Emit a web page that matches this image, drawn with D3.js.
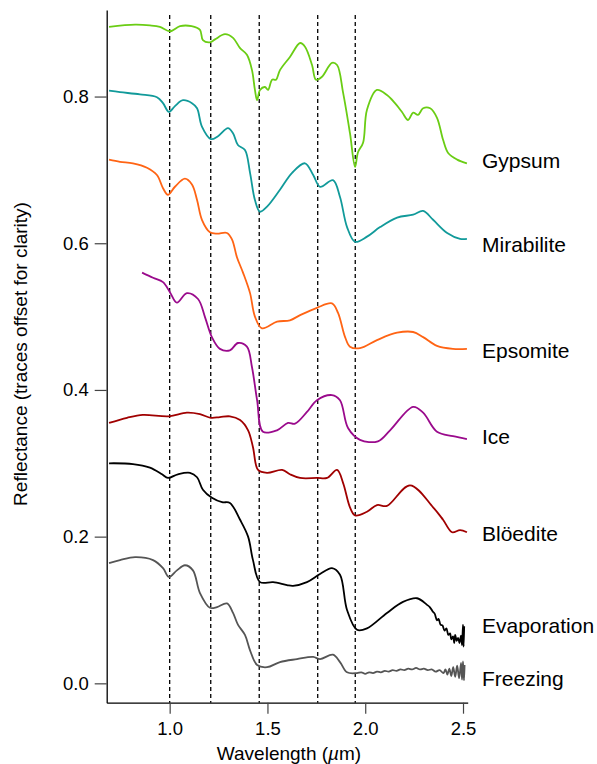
<!DOCTYPE html>
<html>
<head>
<meta charset="utf-8">
<title>Reflectance spectra</title>
<script src="https://cdn.jsdelivr.net/npm/d3@7/dist/d3.min.js"></script>
<style>
  body { margin: 0; background: #fff; }
  svg text { font-family: "Liberation Sans", Arial, Helvetica, sans-serif; fill: #000; }
</style>
</head>
<body>
<div id="chart"></div>
<script>
// traces, [wavelength (um), reflectance]
var gypsum = [[0.690,0.895],[0.823,0.898],[0.899,0.897],[0.950,0.895],[1.002,0.889],[1.053,0.896],[1.112,0.896],[1.155,0.891],[1.170,0.877],[1.206,0.874],[1.232,0.878],[1.283,0.885],[1.324,0.880],[1.360,0.866],[1.395,0.857],[1.421,0.836],[1.436,0.809],[1.447,0.795],[1.462,0.809],[1.487,0.813],[1.503,0.809],[1.524,0.823],[1.544,0.823],[1.564,0.836],[1.615,0.854],[1.667,0.873],[1.692,0.868],[1.728,0.843],[1.748,0.823],[1.779,0.827],[1.830,0.846],[1.856,0.843],[1.887,0.805],[1.922,0.750],[1.948,0.704],[1.963,0.724],[1.989,0.737],[2.009,0.782],[2.060,0.809],[2.111,0.802],[2.152,0.791],[2.188,0.779],[2.219,0.768],[2.245,0.778],[2.270,0.775],[2.296,0.784],[2.332,0.784],[2.367,0.771],[2.398,0.741],[2.424,0.723],[2.470,0.714],[2.520,0.709]];
var mirabilite = [[0.690,0.808],[0.746,0.806],[0.848,0.803],[0.935,0.799],[0.966,0.791],[0.996,0.779],[1.027,0.787],[1.068,0.795],[1.114,0.791],[1.140,0.784],[1.165,0.759],[1.211,0.742],[1.247,0.746],[1.298,0.757],[1.324,0.750],[1.349,0.734],[1.385,0.727],[1.411,0.696],[1.436,0.659],[1.462,0.643],[1.498,0.650],[1.564,0.673],[1.626,0.696],[1.692,0.709],[1.734,0.693],[1.769,0.677],[1.835,0.686],[1.871,0.663],[1.907,0.622],[1.948,0.602],[2.009,0.609],[2.076,0.622],[2.163,0.635],[2.245,0.639],[2.296,0.644],[2.347,0.632],[2.419,0.614],[2.485,0.606],[2.520,0.606]];
var epsomite = [[0.690,0.714],[0.746,0.711],[0.812,0.709],[0.884,0.703],[0.935,0.693],[0.966,0.675],[0.991,0.666],[1.027,0.677],[1.078,0.688],[1.114,0.680],[1.140,0.659],[1.165,0.632],[1.206,0.615],[1.242,0.613],[1.293,0.614],[1.319,0.605],[1.344,0.581],[1.375,0.560],[1.411,0.532],[1.436,0.500],[1.472,0.484],[1.549,0.493],[1.615,0.495],[1.667,0.502],[1.753,0.512],[1.830,0.518],[1.861,0.505],[1.897,0.472],[1.922,0.459],[1.973,0.457],[2.060,0.468],[2.163,0.478],[2.245,0.479],[2.296,0.472],[2.367,0.460],[2.449,0.456],[2.520,0.456]];
var ice = [[0.859,0.560],[0.915,0.553],[0.966,0.547],[1.002,0.533],[1.037,0.519],[1.088,0.532],[1.145,0.524],[1.181,0.499],[1.216,0.472],[1.257,0.456],[1.308,0.454],[1.349,0.464],[1.395,0.459],[1.421,0.431],[1.447,0.386],[1.477,0.343],[1.549,0.345],[1.605,0.355],[1.641,0.354],[1.702,0.370],[1.753,0.386],[1.830,0.393],[1.871,0.386],[1.912,0.348],[1.973,0.332],[2.065,0.330],[2.127,0.345],[2.245,0.377],[2.296,0.369],[2.367,0.343],[2.449,0.337],[2.520,0.333]];
var bloedite = [[0.690,0.355],[0.782,0.362],[0.863,0.366],[0.996,0.364],[1.088,0.369],[1.155,0.367],[1.211,0.362],[1.257,0.363],[1.308,0.364],[1.360,0.359],[1.401,0.345],[1.426,0.322],[1.452,0.291],[1.498,0.287],[1.575,0.291],[1.615,0.285],[1.667,0.280],[1.753,0.280],[1.805,0.280],[1.856,0.291],[1.887,0.273],[1.922,0.240],[1.948,0.229],[2.009,0.234],[2.060,0.243],[2.111,0.242],[2.229,0.270],[2.347,0.240],[2.398,0.223],[2.444,0.206],[2.485,0.209],[2.520,0.206]];
var evaporation = [[0.690,0.300],[0.812,0.299],[0.899,0.294],[0.961,0.285],[0.991,0.280],[1.042,0.285],[1.104,0.287],[1.140,0.281],[1.170,0.264],[1.216,0.253],[1.268,0.247],[1.308,0.246],[1.360,0.223],[1.401,0.200],[1.426,0.168],[1.462,0.138],[1.529,0.138],[1.600,0.134],[1.631,0.133],[1.702,0.138],[1.769,0.149],[1.830,0.157],[1.871,0.148],[1.907,0.100],[1.958,0.073],[2.009,0.075],[2.111,0.096],[2.193,0.111],[2.265,0.116],[2.316,0.107],[2.330,0.104],[2.345,0.098],[2.355,0.095],[2.367,0.086],[2.375,0.088],[2.385,0.080],[2.395,0.079],[2.405,0.072],[2.415,0.075],[2.425,0.066],[2.434,0.068],[2.440,0.060],[2.449,0.064],[2.455,0.055],[2.460,0.066],[2.468,0.058],[2.475,0.062],[2.482,0.055],[2.490,0.065],[2.495,0.052],[2.500,0.080],[2.503,0.050],[2.506,0.078]];
var freezing = [[0.690,0.164],[0.746,0.168],[0.823,0.172],[0.915,0.168],[0.966,0.157],[0.996,0.145],[1.037,0.154],[1.078,0.161],[1.119,0.154],[1.155,0.123],[1.206,0.103],[1.242,0.104],[1.293,0.109],[1.324,0.096],[1.349,0.080],[1.385,0.066],[1.411,0.045],[1.447,0.025],[1.498,0.022],[1.564,0.029],[1.651,0.033],[1.734,0.036],[1.769,0.033],[1.835,0.039],[1.871,0.029],[1.907,0.015],[1.958,0.014],[1.980,0.015],[2.000,0.013],[2.020,0.015],[2.040,0.014],[2.060,0.016],[2.080,0.015],[2.100,0.017],[2.120,0.016],[2.140,0.018],[2.160,0.017],[2.180,0.019],[2.200,0.018],[2.220,0.020],[2.240,0.019],[2.260,0.021],[2.280,0.019],[2.300,0.020],[2.320,0.018],[2.340,0.019],[2.360,0.016],[2.380,0.018],[2.400,0.014],[2.410,0.019],[2.420,0.012],[2.430,0.020],[2.440,0.010],[2.450,0.022],[2.460,0.009],[2.470,0.024],[2.480,0.007],[2.490,0.028],[2.495,0.005],[2.500,0.030],[2.505,0.004],[2.508,0.025]];

var names = ["Gypsum", "Mirabilite", "Epsomite", "Ice", "Blöedite", "Evaporation", "Freezing"];
var traces = [gypsum, mirabilite, epsomite, ice, bloedite, evaporation, freezing];
var colors = ["#6acd14", "#119a9a", "#ff6414", "#9a0a8c", "#a00000", "#000000", "#555555"];
var labelY = [0.713, 0.598, 0.454, 0.336, 0.204, 0.078, 0.007];
var bands = [1.0, 1.21, 1.458, 1.757, 1.949];
var xTicks = [1.0, 1.5, 2.0, 2.5];
var yTicks = [0.0, 0.2, 0.4, 0.6, 0.8];

var W = 597, H = 764;
var svg = d3.select("#chart").append("svg").attr("width", W).attr("height", H);

var x = d3.scaleLinear().domain([0.678, 2.524]).range([106.7, 467.7]);
var y = d3.scaleLinear().domain([-0.0264, 0.918]).range([702.7, 10]);

// dashed band markers
svg.selectAll(".band").data(bands).enter().append("line")
  .attr("x1", d => x(d)).attr("x2", d => x(d))
  .attr("y1", 15).attr("y2", y.range()[0])
  .style("stroke", "#000").style("stroke-width", 1.3)
  .style("stroke-dasharray", "4,3");

var line = d3.line()
  .x(d => x(d[0])).y(d => y(d[1]))
  .curve(d3.curveCatmullRom.alpha(0.5));

svg.selectAll(".trace").data(traces).enter().append("path")
  .attr("d", line)
  .style("fill", "none")
  .style("stroke", (d, i) => colors[i])
  .style("stroke-width", 1.8)
  .style("stroke-linejoin", "round");

svg.selectAll(".lbl").data(names).enter().append("text")
  .attr("x", 482)
  .attr("y", (d, i) => y(labelY[i]))
  .attr("dy", "0.35em")
  .style("font-size", "21px")
  .text(d => d);

// axes
var xAxis = d3.axisBottom(x).tickValues(xTicks).tickFormat(d3.format(".1f"))
  .tickSizeInner(11).tickSizeOuter(0).tickPadding(8);
var yAxis = d3.axisLeft(y).tickValues(yTicks).tickFormat(d3.format(".1f"))
  .tickSizeInner(12).tickSizeOuter(0).tickPadding(6);

var gx = svg.append("g").attr("transform", "translate(0," + y.range()[0] + ")").call(xAxis);
var gy = svg.append("g").attr("transform", "translate(" + x.range()[0] + ",0)").call(yAxis);
[gx, gy].forEach(function(g) {
  g.select(".domain").style("stroke", "#000").style("stroke-width", 1.3);
  g.selectAll(".tick line").style("stroke", "#444").style("stroke-width", 1.2);
  g.selectAll(".tick text").style("font-size", "18.5px")
    .style("font-family", "'Liberation Sans', Arial, sans-serif");
});

svg.append("text")
  .attr("transform", "translate(27,354) rotate(-90)")
  .attr("text-anchor", "middle")
  .style("font-size", "19px")
  .text("Reflectance (traces offset for clarity)");

var xt = svg.append("text")
  .attr("x", 289).attr("y", 760)
  .attr("text-anchor", "middle")
  .style("font-size", "19px");
xt.append("tspan").text("Wavelength (");
xt.append("tspan").style("font-style", "italic").text("µ");
xt.append("tspan").text("m)");
</script>
</body>
</html>
